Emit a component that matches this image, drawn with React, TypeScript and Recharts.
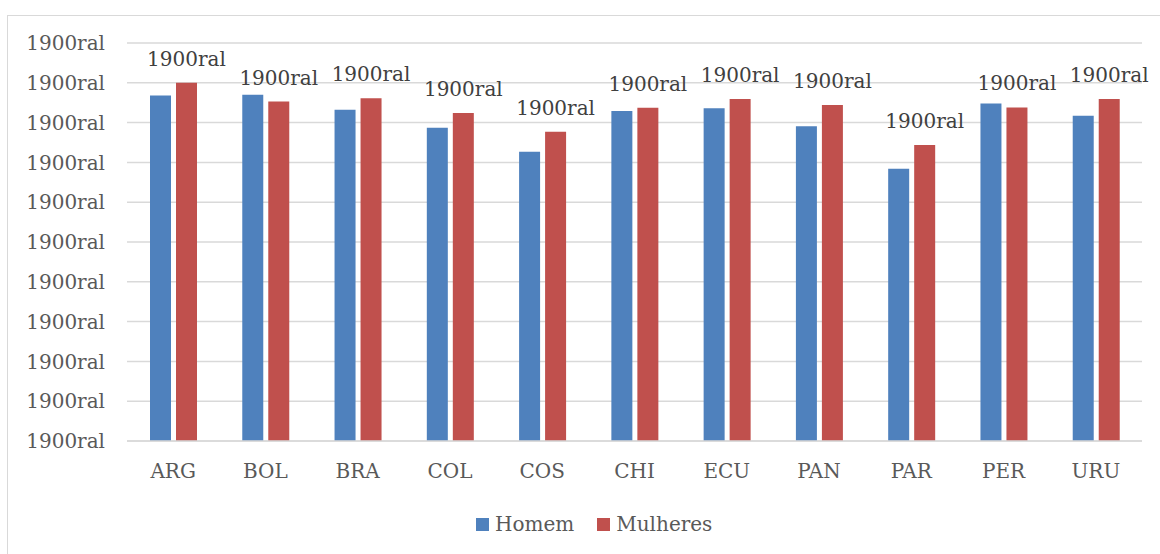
import React from "react";
import { BarChart, Bar, XAxis, YAxis, CartesianGrid, LabelList } from "recharts";

const categories = ["ARG", "BOL", "BRA", "COL", "COS", "CHI", "ECU", "PAN", "PAR", "PER", "URU"];
const homem = [8.68, 8.7, 8.32, 7.87, 7.27, 8.29, 8.36, 7.91, 6.84, 8.48, 8.17];
const mulheres = [9.0, 8.53, 8.61, 8.24, 7.77, 8.37, 8.59, 8.44, 7.44, 8.38, 8.59];
const yTicks = [0, 1, 2, 3, 4, 5, 6, 7, 8, 9, 10];
const tickLabel = "1900ral";
const seriesNames = ["Homem", "Mulheres"];

const BLUE = "#4F81BD";
const RED = "#C0504D";
const GRID = "#d9d9d9";
const TEXT = "#595959";
const FONT = "'DejaVu Serif', serif";
const FS = 20;

const data = categories.map((c, i) => ({ name: c, homem: homem[i], mulheres: mulheres[i] }));

export default function App() {
  return (
    <div
      style={{
        position: "fixed",
        left: 0,
        top: 0,
        width: 1160,
        height: 554,
        overflow: "hidden",
        background: "#fff",
        fontFamily: FONT,
      }}
    >
      <div
        style={{
          position: "absolute",
          left: 7,
          top: 15,
          width: 1200,
          height: 600,
          border: `1.5px solid ${GRID}`,
          boxSizing: "border-box",
        }}
      />
      <div style={{ position: "absolute", left: 0, top: 0 }}>
        <BarChart
          width={1160}
          height={554}
          data={data}
          margin={{ top: 43, right: 18, left: 0, bottom: 63 }}
          barSize={21}
          barGap={5}
        >
          <CartesianGrid vertical={false} stroke={GRID} strokeWidth={1.5} />
          <XAxis
            dataKey="name"
            height={50}
            axisLine={{ stroke: GRID, strokeWidth: 1.5 }}
            tickLine={false}
            tickSize={0}
            tickMargin={23}
            tick={{ fill: TEXT, fontSize: FS, fontFamily: FONT }}
            interval={0}
          />
          <YAxis
            width={127}
            domain={[0, 10]}
            ticks={yTicks}
            interval={0}
            axisLine={false}
            tickLine={false}
            tickSize={0}
            tickMargin={22}
            tickFormatter={() => tickLabel}
            tick={{ fill: TEXT, fontSize: FS, fontFamily: FONT }}
          />
          <Bar dataKey="homem" name={seriesNames[0]} fill={BLUE} isAnimationActive={false} />
          <Bar dataKey="mulheres" name={seriesNames[1]} fill={RED} isAnimationActive={false}>
            <LabelList
              dataKey="mulheres"
              position="top"
              offset={17}
              formatter={() => tickLabel}
              style={{ fill: "#404040", fontSize: FS, fontFamily: FONT }}
            />
          </Bar>
        </BarChart>
      </div>
      <div
        style={{
          position: "absolute",
          left: 476,
          top: 510,
          display: "flex",
          alignItems: "center",
          fontSize: FS,
          color: TEXT,
          fontFamily: FONT,
          lineHeight: "28px",
        }}
      >
        <span style={{ width: 13, height: 13, background: BLUE, display: "inline-block", marginRight: 6 }} />
        <span style={{ marginRight: 23 }}>{seriesNames[0]}</span>
        <span style={{ width: 13, height: 13, background: RED, display: "inline-block", marginRight: 6 }} />
        <span>{seriesNames[1]}</span>
      </div>
    </div>
  );
}
